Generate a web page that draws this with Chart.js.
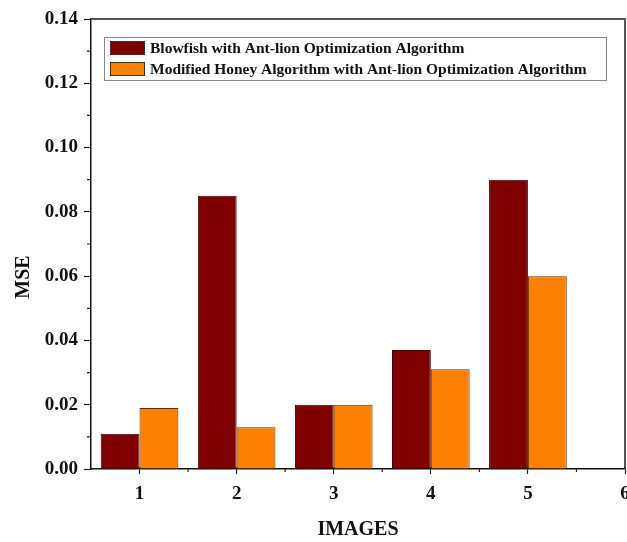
<!DOCTYPE html>
<html>
<head>
<meta charset="utf-8">
<script src="https://cdn.jsdelivr.net/npm/chart.js@4/dist/chart.umd.min.js"></script>
<style>
  html, body { margin: 0; padding: 0; background: #fff; }
  #wrap { width: 627px; height: 542px; }
</style>
</head>
<body>
<div id="wrap"><canvas id="chart"></canvas></div>
<script>
const images = [1, 2, 3, 4, 5];
const blowfishMse = [0.011, 0.085, 0.020, 0.037, 0.090];
const honeyMse = [0.019, 0.013, 0.020, 0.031, 0.060];
const seriesNames = [
  "Blowfish with Ant-lion Optimization Algorithm",
  "Modified Honey Algorithm with Ant-lion Optimization Algorithm",
];
const xTicks = [1, 2, 3, 4, 5, 6];
const yTicks = [0, 0.02, 0.04, 0.06, 0.08, 0.10, 0.12, 0.14];

const serif = "'Liberation Serif', 'Times New Roman', serif";
const MAROON = "#800000";
const ORANGE = "#ff8000";

// frame on top/right, minor ticks, y title and the boxed legend inside the plot
const frameAndLegend = {
  id: "frameAndLegend",
  afterDraw(chart) {
    const { ctx, chartArea: a, scales } = chart;
    ctx.save();
    ctx.strokeStyle = "#555";
    ctx.lineWidth = 2;
    ctx.beginPath();
    ctx.moveTo(a.left, a.top);
    ctx.lineTo(a.right, a.top);
    ctx.lineTo(a.right, a.bottom);
    ctx.stroke();

    ctx.strokeStyle = "#222";
    ctx.lineWidth = 1.2;
    ctx.beginPath();
    // minor ticks halfway between majors
    for (let i = 0; i < yTicks.length - 1; i++) {
      const y = scales.y.getPixelForValue((yTicks[i] + yTicks[i + 1]) / 2);
      ctx.moveTo(a.left - 4, y);
      ctx.lineTo(a.left, y);
    }
    for (let i = 0; i < xTicks.length - 1; i++) {
      const x = scales.x.getPixelForValue((xTicks[i] + xTicks[i + 1]) / 2);
      ctx.moveTo(x, a.bottom - 1);
      ctx.lineTo(x, a.bottom + 3);
    }
    // major x ticks poke a little into the plot too
    xTicks.forEach((v) => {
      const x = scales.x.getPixelForValue(v);
      ctx.moveTo(x, a.bottom - 2);
      ctx.lineTo(x, a.bottom);
    });
    ctx.stroke();

    // y axis title
    ctx.fillStyle = "#111";
    ctx.font = "bold 20px " + serif;
    ctx.textAlign = "center";
    ctx.textBaseline = "middle";
    ctx.translate(24, 277);
    ctx.rotate(-Math.PI / 2);
    ctx.fillText("MSE", 0, 0);
    ctx.setTransform(1, 0, 0, 1, 0, 0);

    // legend box
    const lx = a.left + 13, ly = a.top + 18, lw = 502, lh = 43;
    ctx.strokeStyle = "#888";
    ctx.lineWidth = 1;
    ctx.strokeRect(lx + 0.5, ly + 0.5, lw, lh);
    ctx.font = "bold 15.5px " + serif;
    ctx.textAlign = "left";
    chart.data.datasets.forEach((ds, i) => {
      const cy = ly + 11 + i * 21;
      ctx.fillStyle = ds.backgroundColor;
      ctx.fillRect(lx + 6, cy - 7, 35, 14);
      ctx.strokeStyle = "#333";
      ctx.strokeRect(lx + 6.5, cy - 6.5, 34, 13);
      ctx.fillStyle = "#111";
      ctx.fillText(ds.label, lx + 46, cy + 1);
    });
    ctx.restore();
  },
};

new Chart(document.getElementById("chart"), {
  type: "bar",
  data: {
    datasets: [
      {
        label: seriesNames[0],
        data: images.map((x, i) => ({ x: x, y: blowfishMse[i] })),
        backgroundColor: MAROON,
        borderColor: "#3a0000",
        borderWidth: 1,
      },
      {
        label: seriesNames[1],
        data: images.map((x, i) => ({ x: x, y: honeyMse[i] })),
        backgroundColor: ORANGE,
        borderColor: "#5a3000",
        borderWidth: 1,
      },
    ],
  },
  options: {
    responsive: true,
    maintainAspectRatio: false,
    animation: false,
    layout: { padding: { top: 19, right: 2, left: 0, bottom: 0 } },
    datasets: { bar: { categoryPercentage: 0.8, barPercentage: 1.0 } },
    plugins: { legend: { display: false }, tooltip: { enabled: false } },
    scales: {
      x: {
        type: "linear",
        offset: false,
        min: 0.5,
        max: 6,
        afterBuildTicks: (s) => { s.ticks = xTicks.map((v) => ({ value: v })); },
        afterFit: (s) => {
          s.height = 73;
          // let the last label run past the edge instead of shrinking the plot
          s.paddingLeft = 0;
          s.paddingRight = 0;
        },
        ticks: {
          color: "#111",
          font: { family: serif, weight: "bold", size: 19 },
          padding: 9,
          callback: (v) => String(v),
        },
        grid: { offset: false, drawOnChartArea: false, tickLength: 5, color: "#222", tickWidth: 1.2 },
        border: { color: "#111", width: 1.5 },
        title: {
          display: true,
          text: "IMAGES",
          color: "#111",
          font: { family: serif, weight: "bold", size: 20 },
          padding: { top: 4, bottom: 0 },
        },
      },
      y: {
        min: 0,
        max: 0.14,
        afterBuildTicks: (s) => { s.ticks = yTicks.map((v) => ({ value: v })); },
        afterFit: (s) => { s.width = 91; },
        ticks: {
          color: "#111",
          font: { family: serif, weight: "bold", size: 19 },
          padding: 6,
          callback: (v) => v.toFixed(2),
        },
        grid: { drawOnChartArea: false, tickLength: 7, color: "#222", tickWidth: 1.2 },
        border: { color: "#111", width: 1.5 },
      },
    },
  },
  plugins: [frameAndLegend],
});
</script>
</body>
</html>
